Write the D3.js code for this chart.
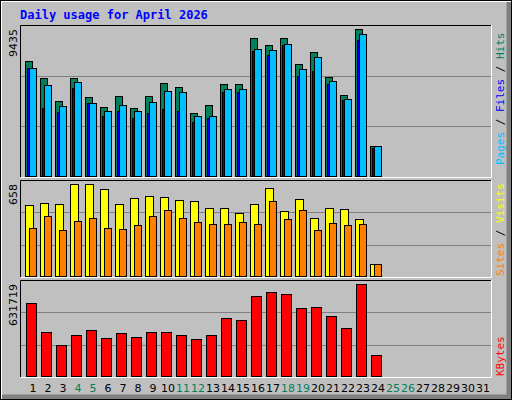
<!DOCTYPE html>
<html><head><meta charset="utf-8">
<script src="https://cdn.jsdelivr.net/npm/d3@7"></script>
<style>body{margin:0;background:#fff}svg{display:block}</style>
</head><body><div id="chart"></div>
<script>
// daily stats, April 2026 (days 1..24 have data)
const days = d3.range(1, 32);
const weekends = [4, 5, 11, 12, 18, 19, 25, 26];
const hits = [7362,6270,4794,6270,5051,4409,5115,4345,5115,5949,5693,4024,4537,5885,5885,8838,8388,8838,7169,7939,6335,5179,9435,1906];
const files = [6912,5821,4473,6014,4666,4152,4537,4152,4730,5436,5372,3831,3831,5564,5564,8131,8067,8452,6848,7618,6078,4922,9094,1906];
const pages = [6950,4345,4088,5629,4666,3831,4152,3703,4024,4281,4152,3447,3703,5372,5372,8003,7746,8388,6399,6720,5885,4858,8709,1778];
const visits = [509,523,516,658,658,622,516,559,573,566,544,537,488,488,452,516,630,466,552,417,488,481,410,83];
const sites = [346,431,332,395,417,346,339,367,431,473,417,388,374,374,388,374,537,410,473,332,381,367,374,83];
const kbytes = [500800,301000,211500,280400,314800,259700,294100,266600,301000,301000,280400,252800,280400,397500,383700,549000,576600,562800,466400,473300,411300,328600,631719,142600];

const W = 512, H = 400;
const svg = d3.select("#chart").append("svg").attr("width", W).attr("height", H)
    .style("font-family", "'DejaVu Sans Mono', monospace");

// outer bevel frame
svg.append("rect").attr("width", W).attr("height", H).attr("fill", "#c0c0c0");
svg.append("path").attr("d", `M1,${H-1}V1H${W-1}`).attr("stroke", "#fff").attr("stroke-width", 2).attr("fill", "none");
svg.append("path").attr("d", `M2,${H-3}H${W-3}V2`).attr("stroke", "#808080").attr("stroke-width", 5).attr("fill", "none");
svg.append("rect").attr("x", 0.5).attr("y", 0.5).attr("width", W-1).attr("height", H-1).attr("fill", "none").attr("stroke", "#000");

svg.append("text").attr("x", 20).attr("y", 19).attr("fill", "#0000ff")
    .attr("font-weight", "bold").attr("font-size", 12).text("Daily usage for April 2026");

const x = d3.scaleLinear().domain([1, 31]).range([25, 475]);
const L = 20, R = 491;

function panel(y0, y1, top, max, label) {
    const g = svg.append("g");
    g.append("rect").attr("x", L).attr("y", y0).attr("width", R - L).attr("height", y1 - y0).attr("fill", "#c0c0c0");
    const y = d3.scaleLinear().domain([0, max]).range([y1 - 1, top]);
    [1, 2].forEach(k => {
        const gy = Math.round(y1 - (y1 - y0) * k / 3) + 0.5;
        g.append("line").attr("x1", L).attr("x2", R).attr("y1", gy).attr("y2", gy).attr("stroke", "#808080");
    });
    g.append("path").attr("d", `M${L+.5},${y1}V${y0+.5}H${R}`).attr("stroke", "#000").attr("fill", "none");
    g.append("path").attr("d", `M${L+.5},${y1+.5}H${R+.5}V${y0}`).attr("stroke", "#fff").attr("fill", "none");
    g.append("text").attr("transform", `translate(17,${y0 + 4}) rotate(-90)`)
        .attr("text-anchor", "end").attr("font-size", 11).attr("font-family", "'DejaVu Sans', sans-serif").text(label);
    return {g, y};
}

function bars(p, data, dx, w, color) {
    p.g.append("g").selectAll("rect").data(data).join("rect")
        .attr("x", (d, i) => x(i + 1) + dx + 0.5)
        .attr("y", d => Math.round(p.y(d)) + 0.5)
        .attr("width", w)
        .attr("height", d => p.y(0) - Math.round(p.y(d)))
        .attr("fill", color).attr("stroke", "#000");
}

const p1 = panel(25, 177, 29, 9435, "9435");
bars(p1, hits, 0, 7, "#00805c");
bars(p1, pages, 2, 7, "#0000ff");
bars(p1, files, 4, 7, "#00c0ff");

const p2 = panel(180, 277, 184, 658, "658");
bars(p2, visits, 0, 8, "#ffff00");
bars(p2, sites, 4, 7, "#ff8000");

const p3 = panel(280, 377, 284, 631719, "631719");
bars(p3, kbytes, 1, 10, "#ff0000");

// right side vertical legends
function legend(yBottom, parts) {
    const t = svg.append("text").attr("transform", `translate(504,${yBottom}) rotate(-90)`)
        .attr("font-size", 11).attr("font-family", "'DejaVu Sans Mono', monospace");
    parts.forEach(([s, c]) => t.append("tspan").attr("fill", c).text(s));
}
legend(165, [["Pages", "#00c0ff"], [" / ", "#000"], ["Files", "#0000ff"], [" / ", "#000"], ["Hits", "#00805c"]]);
legend(276, [["Sites", "#ff8000"], [" / ", "#000"], ["Visits", "#ffff00"]]);
legend(376, [["KBytes", "#ff0000"]]);

svg.append("g").selectAll("text").data(days).join("text")
    .attr("x", d => x(d) + 8).attr("y", 392).attr("text-anchor", "middle")
    .attr("font-size", 11).attr("font-family", "'DejaVu Sans', sans-serif")
    .attr("fill", d => weekends.includes(d) ? "#00805c" : "#000").text(d => d);
</script></body></html>
